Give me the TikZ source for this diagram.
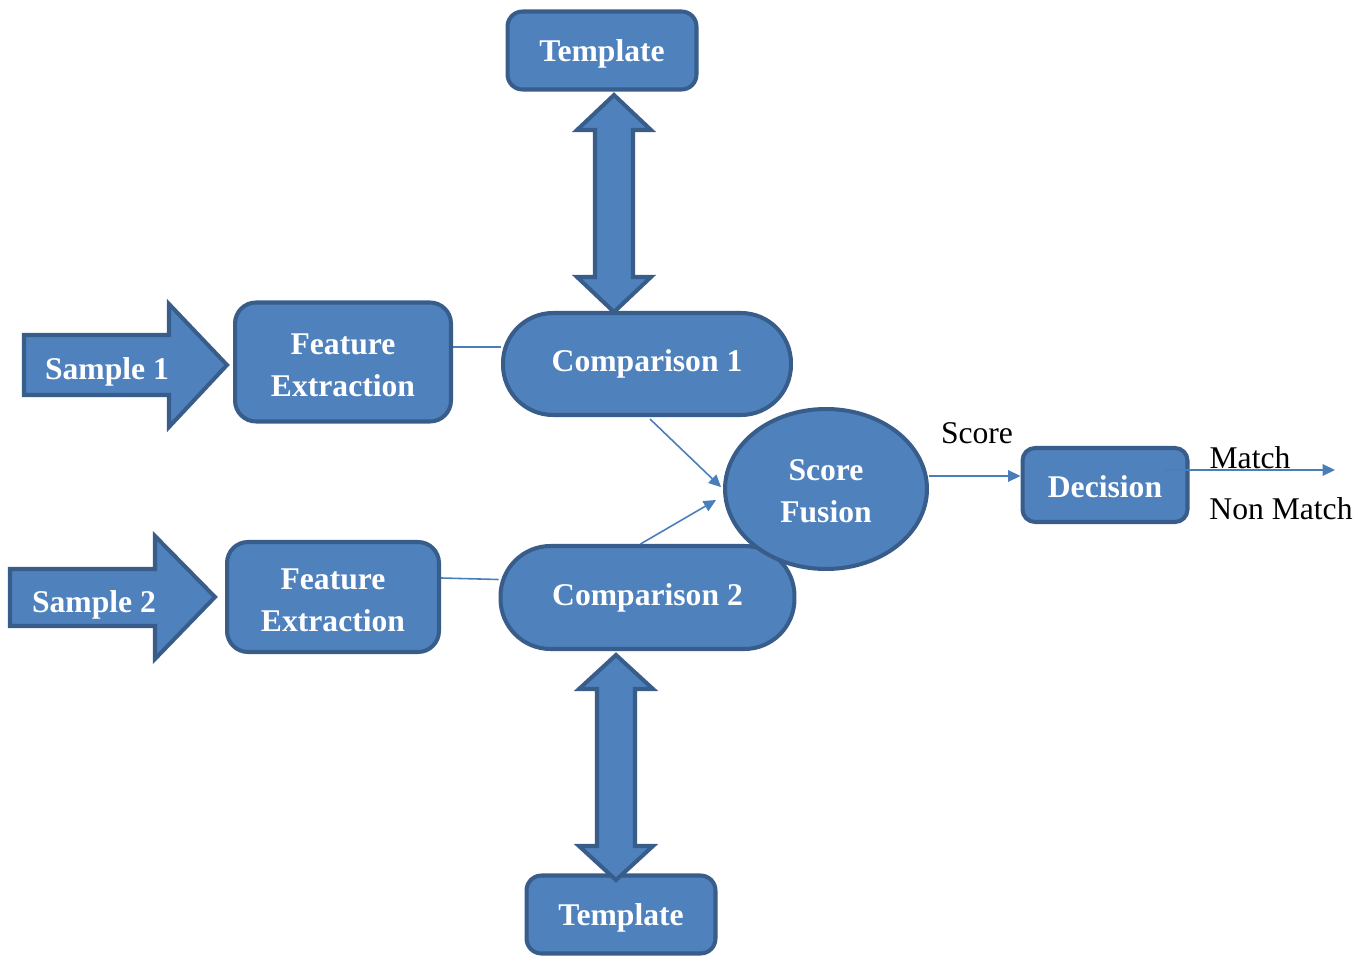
\documentclass[tikz,border=0pt]{standalone}
\usepackage{fontspec}
\setmainfont{Liberation Serif}
\usetikzlibrary{shapes.geometric,arrows.meta,calc}
\definecolor{boxfill}{HTML}{4F81BD}
\definecolor{boxline}{HTML}{385D8A}
\definecolor{conncol}{HTML}{4A7EBB}
\newcommand\myDblArrow[4]{% x, ytop, ybot, head length
  \draw[bigarrow] (#1,#2) -- (#1+37,#2+#4) -- (#1+19,#2+#4) -- (#1+19,#3-#4) -- (#1+37,#3-#4) -- (#1,#3)
    -- (#1-37,#3-#4) -- (#1-19,#3-#4) -- (#1-19,#2+#4) -- (#1-37,#2+#4) -- cycle;}
\newcommand\padtop[2]{\raisebox{0pt}[\dimexpr\height+#1\relax]{#2}}
\begin{document}
\begin{tikzpicture}[x=0.02cm,y=-0.02cm,
  blk/.style={draw=boxline, fill=boxfill, line width=2.3pt, text=white,
    font=\fontsize{18}{24}\selectfont\bfseries, align=center, inner sep=0pt},
  rbox/.style={blk, rectangle, rounded corners=#1},
  capc/.style={text height=13pt, text depth=1pt},
  conn/.style={draw=conncol, line width=0.9pt},
  arr/.style={conn, -{Triangle[length=7pt,width=6.5pt]}},
  lbl/.style={font=\fontsize{18}{22}\selectfont, text=black, inner sep=0pt},
  bigarrow/.style={draw=boxline, fill=boxfill, line width=2.3pt, line join=miter},
  arrtext/.style={text=white, font=\fontsize{18}{24}\selectfont\bfseries, inner sep=0pt, capc}
]
\useasboundingbox (0,0) rectangle (1370,956);

% sample arrows
\draw[bigarrow] (24,335) -- (169,335) -- (169,304) -- (227,365) -- (169,427) -- (169,395) -- (24,395) -- cycle;
\node[arrtext] (s1) at (107,369) {Sample 1};
\draw[bigarrow] (10,569) -- (155,569) -- (155,536) -- (215,597) -- (155,659) -- (155,626) -- (10,626) -- cycle;
\node[arrtext] (s2) at (94,602) {Sample 2};

% boxes
\node[rbox=0.3cm, capc, minimum width=3.78cm, minimum height=1.56cm] (t1) at (602,50.5) {Template};
\node[rbox=0.3cm, capc, minimum width=3.78cm, minimum height=1.56cm] (t2) at (621,914.5) {Template};
\node[rbox=0.42cm, minimum width=4.32cm, minimum height=2.38cm] (fe1) at (343,362) {\padtop{4pt}{Feature}\\Extraction};
\node[rbox=0.42cm, minimum width=4.24cm, minimum height=2.2cm] (fe2) at (333,597) {\padtop{4pt}{Feature}\\Extraction};
\node[rbox=1.0cm, minimum width=5.76cm, minimum height=2.04cm] (c1) at (647,364) {Comparison 1};
\node[rbox=1.0cm, minimum width=5.88cm, minimum height=2.06cm] (c2) at (647.5,597.5) {Comparison 2};
\node[blk, ellipse, minimum width=4.04cm, minimum height=3.2cm] (sf) at (826,489) {\padtop{2.3pt}{Score}\\Fusion};
\node[rbox=0.25cm, text height=14.2pt, text depth=0pt, minimum width=3.3cm, minimum height=1.48cm] (dec) at (1105,485) {Decision};

% double arrows
\myDblArrow{614}{95}{312}{35}
\myDblArrow{616}{655}{880}{34}

% connectors
\draw[conn] ($(fe1.east)+(0,-15)$) -- ($(c1.west)+(0,-17)$);
\draw[conn] ($(fe2.east)+(0,-19)$) -- ($(c2.west)+(0,-18)$);
\draw[arr, shorten >=1.5pt] ($(c1.south)+(3,2)$) -- (sf.west);
\draw[arr] ($(c2.north)+(-7,0)$) -- ($(sf.west)+(-7,11)$);
\coordinate (s0) at ($(sf.east)+(0,-13)$);
\draw[arr] (s0) -- (dec.west |- s0);
\coordinate (out) at (1335,470);
\draw[arr] ($(dec.east)+(-25,-15)$) -- (out);

% labels
\node[lbl] (score) at (977,433) {Score};
\node[lbl] (match) at (1250,458) {Match};
\node[lbl] (nonmatch) at (1281,509) {Non Match};
\end{tikzpicture}
\end{document}
